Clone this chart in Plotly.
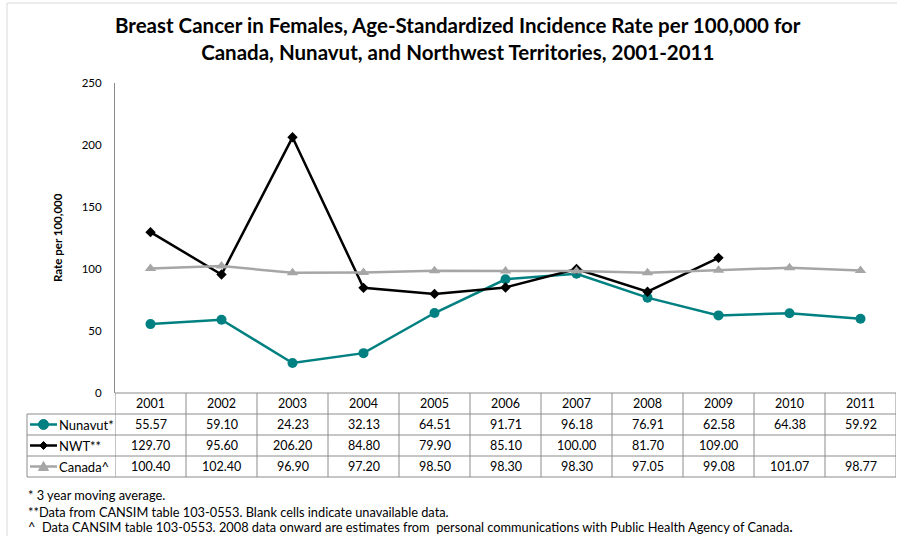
import plotly.graph_objects as go

W, H = 897, 536

years = ["2001", "2002", "2003", "2004", "2005", "2006", "2007", "2008", "2009", "2010", "2011"]
nunavut = [55.57, 59.10, 24.23, 32.13, 64.51, 91.71, 96.18, 76.91, 62.58, 64.38, 59.92]
nwt = [129.70, 95.60, 206.20, 84.80, 79.90, 85.10, 100.00, 81.70, 109.00, None, None]
canada = [100.40, 102.40, 96.90, 97.20, 98.50, 98.30, 98.30, 97.05, 99.08, 101.07, 98.77]

series_names = ["Nunavut*", "NWT**", "Canada^"]
series_values = [nunavut, nwt, canada]
colors = ["#008080", "#000000", "#A6A6A6"]
symbols = ["circle", "diamond", "triangle-up"]
msizes = [10, 8, 10]

title_text = ("<b>Breast Cancer in Females, Age-Standardized Incidence Rate per 100,000 for<br>"
              "Canada, Nunavut, and Northwest Territories, 2001-2011</b>")
footnotes = [
    "* 3 year moving average.",
    "**Data from CANSIM table 103-0553. Blank cells indicate unavailable data.",
    "^  Data CANSIM table 103-0553. 2008 data onward are estimates from  personal communications with Public Health Agency of Canada<b>.</b>",
]

FONT = "Lato, Calibri, Carlito, sans-serif"


def px(p):
    return p / W


def py(p):
    return 1 - p / H


plot_left, plot_right = 115, 896
plot_top, plot_bottom = 83, 393

fig = go.Figure()
for name, vals, c, s, ms in zip(series_names, series_values, colors, symbols, msizes):
    fig.add_trace(go.Scatter(
        x=years, y=vals, name=name, mode="lines+markers",
        line=dict(color=c, width=2.5),
        marker=dict(symbol=s, size=ms, color=c),
        connectgaps=False, showlegend=False,
    ))

shapes = []
annotations = []

# Outer light frame
shapes.append(dict(type="line", xref="paper", yref="paper", x0=px(7), x1=1, y0=py(3), y1=py(3),
                   line=dict(color="#D9D9D9", width=1)))
shapes.append(dict(type="line", xref="paper", yref="paper", x0=px(7), x1=px(7), y0=py(3), y1=0,
                   line=dict(color="#D9D9D9", width=1)))

# Table geometry
row_edges = [393, 414, 435, 456, 477]
grid_col = "#8C8C8C"
label_left = 27

for i, yy in enumerate(row_edges):
    x0 = px(label_left) if i >= 1 else px(plot_left)
    shapes.append(dict(type="line", xref="paper", yref="paper", x0=x0, x1=px(plot_right),
                       y0=py(yy), y1=py(yy), line=dict(color=grid_col, width=1)))
for k in range(len(years) + 1):
    shapes.append(dict(type="line", xref="x", yref="paper", x0=k - 0.5, x1=k - 0.5,
                       y0=py(row_edges[0]), y1=py(row_edges[-1]), line=dict(color=grid_col, width=1)))
shapes.append(dict(type="line", xref="paper", yref="paper", x0=px(label_left), x1=px(label_left),
                   y0=py(row_edges[1]), y1=py(row_edges[-1]), line=dict(color=grid_col, width=1)))

# header row: years
hy = (row_edges[0] + row_edges[1]) / 2
for i, yr in enumerate(years):
    annotations.append(dict(x=i, y=py(hy), xref="x", yref="paper", text=yr, showarrow=False,
                            font=dict(family=FONT, size=12.5, color="#000"), xanchor="center", yanchor="middle"))

# data rows
for r, (name, vals, c, s) in enumerate(zip(series_names, series_values, colors, symbols)):
    cy = (row_edges[r + 1] + row_edges[r + 2]) / 2
    for i, v in enumerate(vals):
        if v is None:
            continue
        annotations.append(dict(x=i, y=py(cy), xref="x", yref="paper", text=f"{v:.2f}", showarrow=False,
                                font=dict(family=FONT, size=12.5, color="#000"), xanchor="center", yanchor="middle"))
    shapes.append(dict(type="line", xref="paper", yref="paper", x0=px(30), x1=px(57), y0=py(cy), y1=py(cy),
                       line=dict(color=c, width=2.5)))
    cx = px(43.5)
    if s == "circle":
        shapes.append(dict(type="circle", xref="paper", yref="paper", xsizemode="pixel", ysizemode="pixel",
                           xanchor=cx, yanchor=py(cy), x0=-5, x1=5, y0=-5, y1=5,
                           fillcolor=c, line=dict(color=c, width=1)))
    else:
        if s == "diamond":
            path = "M 0 -4 L 4 0 L 0 4 L -4 0 Z"
        else:
            path = "M 0 5 L 5 -4 L -5 -4 Z"
        shapes.append(dict(type="path", xref="paper", yref="paper", xsizemode="pixel", ysizemode="pixel",
                           xanchor=cx, yanchor=py(cy), path=path, fillcolor=c, line=dict(color=c, width=1)))
    annotations.append(dict(x=px(57), y=py(cy), xref="paper", yref="paper", text=name, showarrow=False,
                            font=dict(family=FONT, size=13, color="#000"), xanchor="left", yanchor="middle"))

# Title
annotations.append(dict(x=px(458), y=py(39), xref="paper", yref="paper", text=title_text, showarrow=False,
                        font=dict(family=FONT, size=20.5, color="#000"), xanchor="center", yanchor="middle",
                        align="center"))

# Y-axis title
annotations.append(dict(x=px(57), y=py(238), xref="paper", yref="paper", text="<b>Rate per 100,000</b>",
                        showarrow=False, textangle=-90, font=dict(family=FONT, size=11.5, color="#000"),
                        xanchor="center", yanchor="middle"))

# Footnotes
for fy, t in zip([495, 511.5, 527], footnotes):
    annotations.append(dict(x=px(26), y=py(fy), xref="paper", yref="paper", text=t, showarrow=False,
                            font=dict(family=FONT, size=12.8, color="#000"), xanchor="left", yanchor="middle"))

fig.update_layout(
    width=W, height=H,
    margin=dict(l=0, r=0, t=0, b=0, autoexpand=False),
    paper_bgcolor="white", plot_bgcolor="white",
    shapes=shapes, annotations=annotations,
    xaxis=dict(domain=[px(plot_left), px(plot_right)], type="category", categoryorder="array",
               categoryarray=years, range=[-0.5, len(years) - 0.5], showticklabels=False,
               showgrid=False, zeroline=False, showline=False, ticks="", automargin=False),
    yaxis=dict(domain=[py(plot_bottom), py(plot_top)], range=[0, 250], dtick=50,
               showgrid=False, zeroline=False, showline=True, linecolor="#8C8C8C", linewidth=1,
               ticks="", tickfont=dict(family=FONT, size=11.5, color="#000"), ticklabelstandoff=10,
               automargin=False),
    font=dict(family=FONT),
)

fig.write_html("out.html")
